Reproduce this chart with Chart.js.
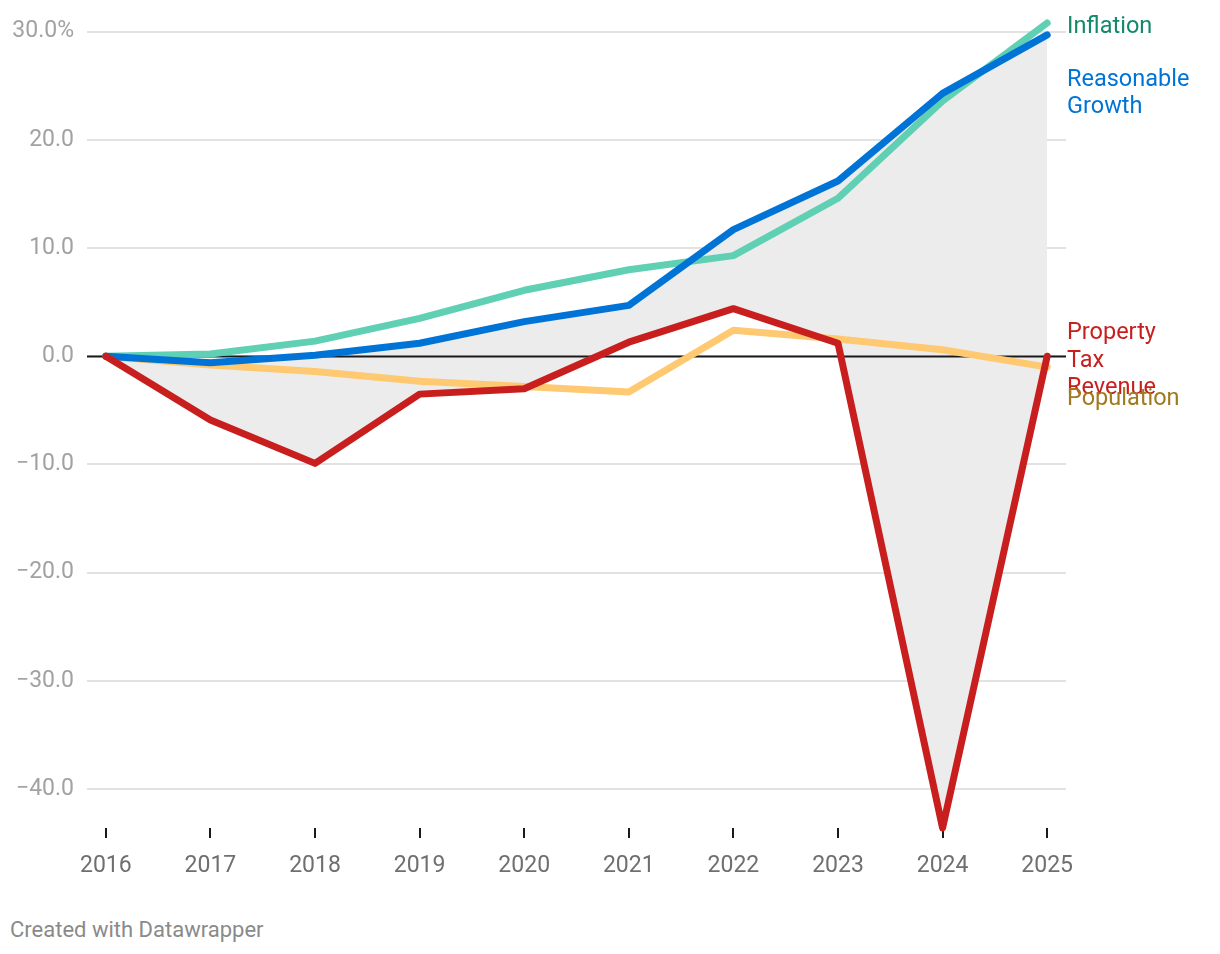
<!DOCTYPE html>
<html>
<head>
<meta charset="utf-8">
<script src="https://cdn.jsdelivr.net/npm/chart.js@4"></script>
<style>
  body { margin: 0; background: #fff; font-family: Roboto, sans-serif; }
  #wrap { position: absolute; left: 0; top: 0; width: 1220px; height: 888px; }
  #credit { position: absolute; left: 10px; top: 918px; font-size: 22px; line-height: 24px; color: #8a8a8a; }
</style>
</head>
<body>
<div id="wrap"><canvas id="chart"></canvas></div>
<div id="credit">Created with Datawrapper</div>
<script>
const YEARS = [2016, 2017, 2018, 2019, 2020, 2021, 2022, 2023, 2024, 2025];
const INFLATION = [0, 0.2, 1.4, 3.5, 6.1, 8.0, 9.3, 14.6, 23.6, 30.8];
const GROWTH = [0, -0.6, 0.1, 1.2, 3.2, 4.7, 11.7, 16.2, 24.3, 29.7];
const POPULATION = [0, -0.8, -1.4, -2.3, -2.8, -3.3, 2.4, 1.6, 0.6, -1.0];
const PROPERTY_TAX = [0, -5.9, -9.9, -3.5, -3.0, 1.3, 4.4, 1.2, -43.6, 0];
const Y_TICKS = [30, 20, 10, 0, -10, -20, -30, -40];

const SERIES = [
  { label: "Property Tax Revenue", lines: ["Property", "Tax", "Revenue"], data: PROPERTY_TAX, color: "#c81e1e", text: "#c81e1e", offset: -23, order: 0 },
  { label: "Reasonable Growth", lines: ["Reasonable", "Growth"], data: GROWTH, color: "#0074d6", text: "#0074d6", offset: 45, order: 1 },
  { label: "Inflation", lines: ["Inflation"], data: INFLATION, color: "#60d0b4", text: "#14896a", offset: 4, order: 2 },
  { label: "Population", lines: ["Population"], data: POPULATION, color: "#ffc972", text: "#9f7a1f", offset: 32, order: 3 },
];

function points(values) {
  return values.map((v, i) => ({ x: YEARS[i], y: v }));
}

const datasets = SERIES.map((s) => ({
  label: s.label,
  data: points(s.data),
  borderColor: s.color,
  borderWidth: 7,
  pointRadius: 0,
  tension: 0,
  fill: false,
  clip: false,
  order: s.order,
  borderCapStyle: "round",
  borderJoinStyle: "round",
}));
// shaded band between Reasonable Growth and Property Tax Revenue
datasets[1].fill = { target: 0, above: "#ececec", below: "#ececec" };

const zeroLine = {
  id: "zeroLine",
  beforeDatasetsDraw(chart) {
    const { ctx, chartArea, scales } = chart;
    const y = Math.round(scales.y.getPixelForValue(0)) + 0.5;
    ctx.save();
    ctx.strokeStyle = "#1a1a1a";
    ctx.lineWidth = 2;
    ctx.beginPath();
    ctx.moveTo(chartArea.left, y);
    ctx.lineTo(chartArea.right, y);
    ctx.stroke();
    ctx.restore();
  },
};

const endLabels = {
  id: "endLabels",
  afterDatasetsDraw(chart) {
    const { ctx, chartArea, scales } = chart;
    ctx.save();
    ctx.font = "23.5px Roboto";
    ctx.textBaseline = "middle";
    ctx.textAlign = "left";
    SERIES.forEach((s) => {
      const last = s.data[s.data.length - 1];
      const y0 = scales.y.getPixelForValue(last) + s.offset;
      ctx.fillStyle = s.text;
      s.lines.forEach((line, i) => ctx.fillText(line, chartArea.right + 1, y0 + i * 27.5));
    });
    ctx.restore();
  },
};

new Chart(document.getElementById("chart"), {
  type: "line",
  data: { datasets },
  options: {
    responsive: true,
    maintainAspectRatio: false,
    animation: false,
    layout: { padding: { top: 0, right: 154, left: 0, bottom: 0 } },
    plugins: {
      legend: { display: false },
      tooltip: { enabled: false },
      filler: { drawTime: "beforeDatasetsDraw" },
    },
    scales: {
      x: {
        type: "linear",
        min: 2015.82,
        max: 2025.18,
        afterBuildTicks: (scale) => { scale.ticks = YEARS.map((v) => ({ value: v })); },
        afterFit: (scale) => { scale.height = 60; },
        border: { display: false },
        grid: { drawOnChartArea: false, drawTicks: true, tickLength: 10, color: "#1a1a1a", lineWidth: 2 },
        ticks: {
          color: "#6f6f6f",
          font: { family: "Roboto", size: 23 },
          padding: 14,
          maxRotation: 0,
          callback: (v) => String(v),
        },
      },
      y: {
        type: "linear",
        min: -43.6,
        max: 30.45,
        afterBuildTicks: (scale) => { scale.ticks = Y_TICKS.map((v) => ({ value: v })); },
        afterFit: (scale) => { scale.width = 87; },
        border: { display: false },
        grid: { drawTicks: false, color: "#e2e2e2", lineWidth: 2 },
        ticks: {
          color: "#a2a2a2",
          font: { family: "Roboto", size: 23 },
          padding: 13,
          callback: (v) => {
            const s = Math.abs(v).toFixed(1);
            if (v === 30) return s + "%";
            return v < 0 ? "\u2212" + s : s;
          },
        },
      },
    },
  },
  plugins: [zeroLine, endLabels],
});
</script>
</body>
</html>
